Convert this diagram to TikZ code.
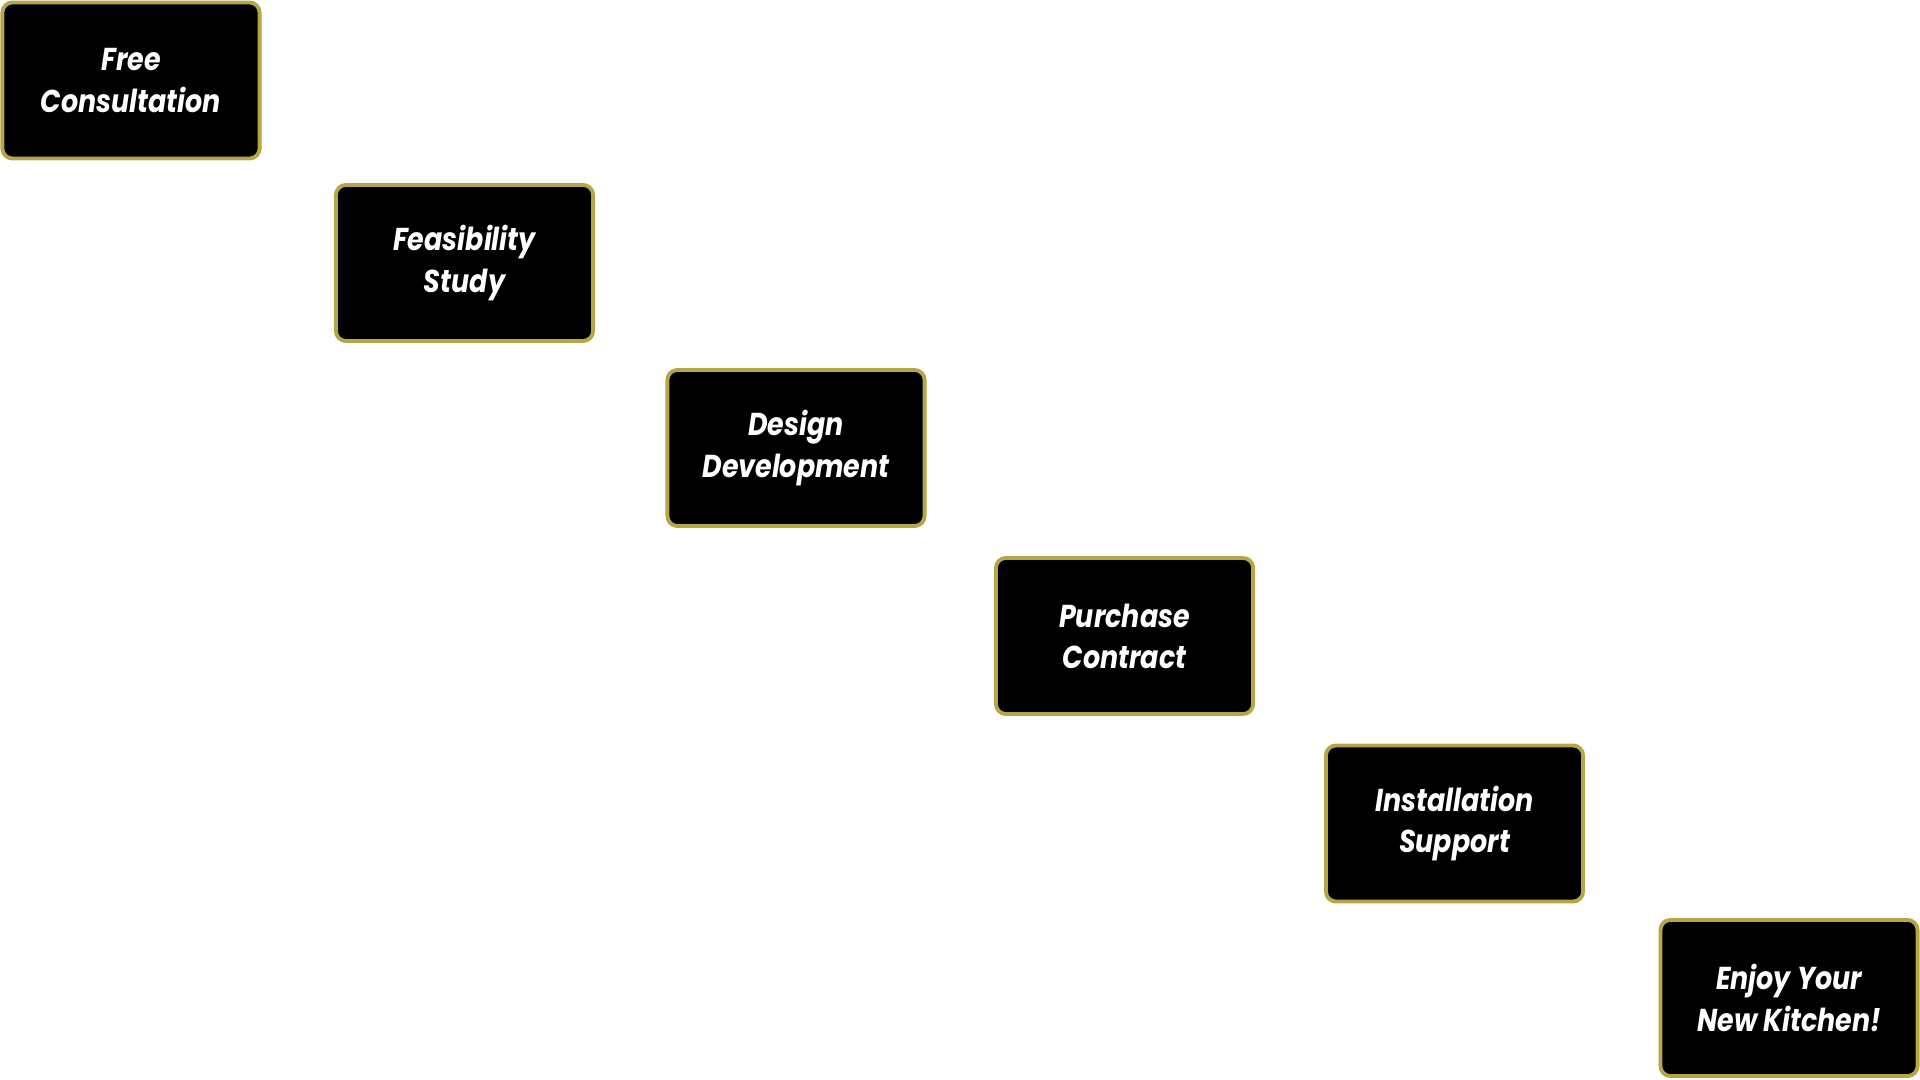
\documentclass[tikz,border=0pt]{standalone}
\usepackage{fontspec}
\setmainfont[FakeStretch=0.85]{Poppins}
\definecolor{goldrim}{RGB}{181,166,72}
\begin{document}
\begin{tikzpicture}[x=0.01cm, y=-0.01cm,
    stage/.style={draw=goldrim, line width=1.1pt, fill=black, rounded corners=1mm,
        minimum width=2.57cm, minimum height=1.56cm, inner sep=0pt,
        align=center, text=white, font=\fontsize{9}{11.7}\selectfont\bfseries\itshape}]
\useasboundingbox (0,0) rectangle (1920,1080);
\node[stage] (consult)  at (131,80.5)   {Free\\Consultation};
\node[stage] (feasible) at (464.5,263)  {Feasibility\\Study};
\node[stage] (design)   at (796,448)    {Design\\Development};
\node[stage] (contract) at (1124.5,636) {Purchase\\Contract};
\node[stage] (install)  at (1454.5,823.5) {Installation\\Support};
\node[stage] (enjoy)    at (1789,998)   {Enjoy Your\\New Kitchen!};
\end{tikzpicture}
\end{document}
